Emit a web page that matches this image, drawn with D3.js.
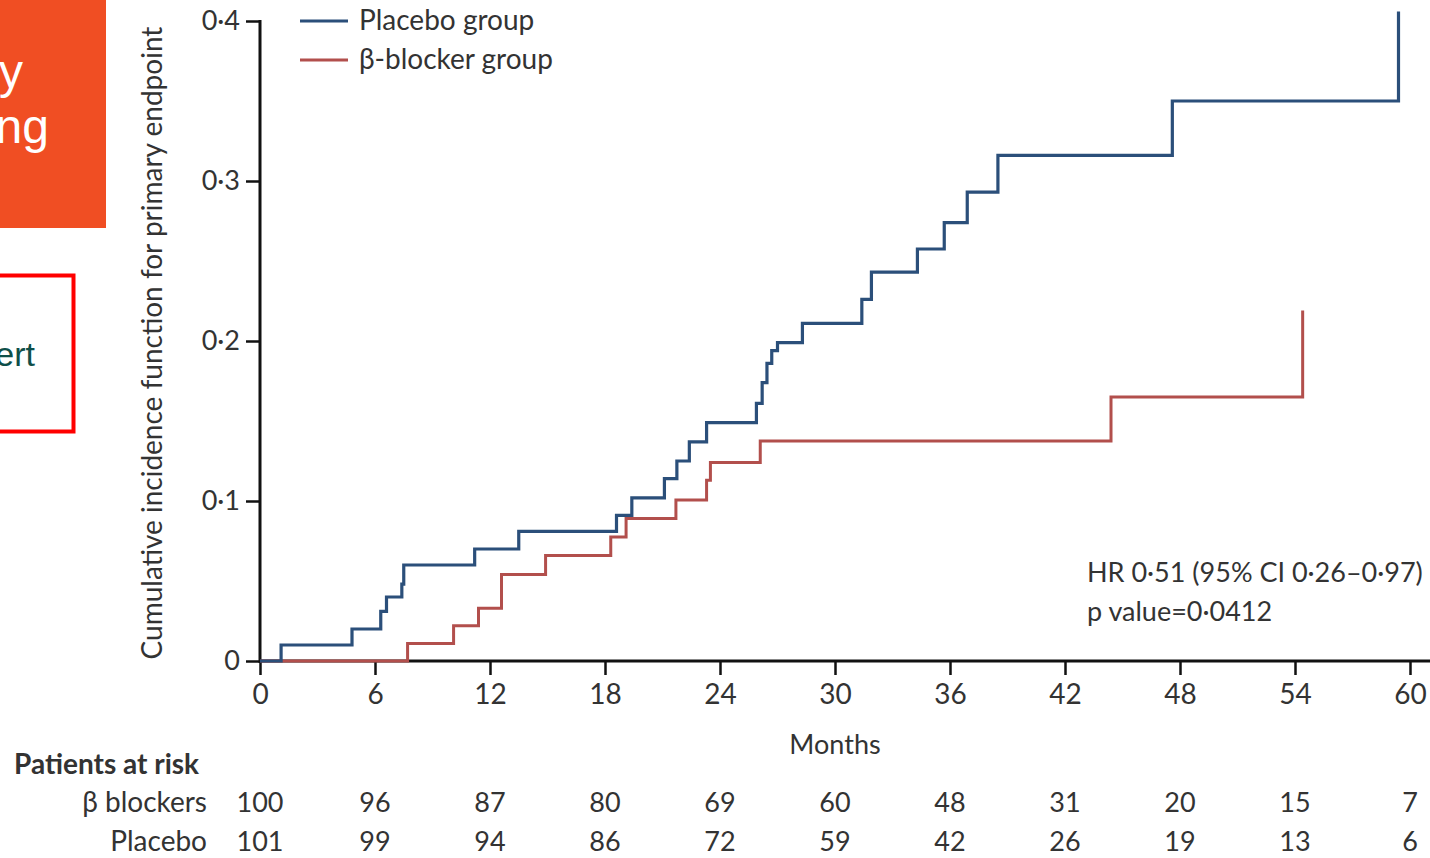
<!DOCTYPE html>
<html>
<head>
<meta charset="utf-8">
<script src="https://cdn.jsdelivr.net/npm/d3@7"></script>
<style>
  html, body { margin: 0; padding: 0; background: #fff; }
  svg { display: block; }
  text { font-family: Lato, "Open Sans", "DejaVu Sans", sans-serif; fill: #333; }
</style>
</head>
<body>
<svg id="chart" width="1430" height="858"></svg>
<script>
// Cumulative incidence of the primary endpoint, step curves (months, cumulative proportion)
const placeboMonths = [0, 1.1, 4.8, 6.3, 6.6, 7.4, 7.5, 11.2, 13.5, 18.6, 19.4, 21.1, 21.75, 22.4, 23.3,
  25.9, 26.2, 26.45, 26.7, 27.0, 28.3, 31.4, 31.9, 34.3, 35.7, 36.9, 38.5, 47.6, 59.4];
const placeboIncidence = [0, 0.010, 0.020, 0.031, 0.040, 0.048, 0.060, 0.070, 0.081, 0.091, 0.102, 0.114, 0.125, 0.137, 0.149,
  0.161, 0.174, 0.186, 0.194, 0.199, 0.211, 0.226, 0.243, 0.2575, 0.274, 0.293, 0.316, 0.350, 0.406];

const blockerMonths = [0, 7.7, 10.1, 11.4, 12.6, 14.9, 18.3, 19.1, 21.7, 23.3, 23.5, 26.1, 44.4, 54.4];
const blockerIncidence = [0, 0.011, 0.022, 0.033, 0.054, 0.066, 0.0775, 0.089, 0.1006, 0.113, 0.124, 0.1375, 0.165, 0.219];

// Axis ticks
const monthTicks = [0, 6, 12, 18, 24, 30, 36, 42, 48, 54, 60];
const incidenceTicks = [0, 0.1, 0.2, 0.3, 0.4];

// Patients at risk at each month tick
const riskGroups = ["β blockers", "Placebo"];
const riskBlockers = [100, 96, 87, 80, 69, 60, 48, 31, 20, 15, 7];
const riskPlacebo = [101, 99, 94, 86, 72, 59, 42, 26, 19, 13, 6];

const legendLabels = ["Placebo group", "β-blocker group"];
const statLines = ["HR 0·51 (95% CI 0·26–0·97)", "p value=0·0412"];

const colPlacebo = "#2b4f7a";
const colBlocker = "#b24f4c";

const svg = d3.select("#chart");
svg.append("rect").attr("width", 1430).attr("height", 858).attr("fill", "#fff");

const x = d3.scaleLinear().domain([0, 60]).range([260, 1410]);
const y = d3.scaleLinear().domain([0, 0.4]).range([661, 21]);

const dot = v => v === 0 ? "0" : d3.format(".1f")(v).replace(".", "·");

// Y axis
const yAxis = svg.append("g").attr("transform", `translate(${x(0)},0)`)
  .call(d3.axisLeft(y).tickValues(incidenceTicks).tickFormat(dot).tickSize(14).tickPadding(6));
yAxis.select(".domain").remove();
yAxis.selectAll(".tick line").attr("stroke", "#111").attr("stroke-width", 2.5);
yAxis.selectAll(".tick text").attr("font-size", 27).attr("fill", "#333")
  .style("font-family", "Lato, 'Open Sans', sans-serif");
svg.append("line").attr("x1", x(0)).attr("x2", x(0)).attr("y1", y(0.4) - 1).attr("y2", y(0) + 2)
  .attr("stroke", "#111").attr("stroke-width", 3);

// X axis
const xAxis = svg.append("g").attr("transform", `translate(0,${y(0)})`)
  .call(d3.axisBottom(x).tickValues(monthTicks).tickFormat(d3.format("d")).tickSize(14).tickPadding(9));
xAxis.select(".domain").remove();
xAxis.selectAll(".tick line").attr("stroke", "#111").attr("stroke-width", 2.5);
xAxis.selectAll(".tick text").attr("font-size", 28).attr("fill", "#333")
  .style("font-family", "Lato, 'Open Sans', sans-serif");
svg.append("line").attr("x1", x(0) - 1).attr("x2", 1430).attr("y1", y(0)).attr("y2", y(0))
  .attr("stroke", "#111").attr("stroke-width", 3);

// Axis titles
svg.append("text").attr("transform", `translate(162,${(y(0) + y(0.4)) / 2 + 2}) rotate(-90)`)
  .attr("text-anchor", "middle").attr("font-size", 28).attr("fill", "#444")
  .text("Cumulative incidence function for primary endpoint");
svg.append("text").attr("x", x(30)).attr("y", 754).attr("text-anchor", "middle")
  .attr("font-size", 27).text("Months");

// Step curves
const step = d3.line().x(d => x(d[0])).y(d => y(d[1])).curve(d3.curveStepAfter);
const blockerPts = blockerMonths.map((m, i) => [m, blockerIncidence[i]]);
const placeboPts = placeboMonths.map((m, i) => [m, placeboIncidence[i]]);
// final vertical at the last follow-up time
blockerPts.push([blockerMonths[blockerMonths.length - 1], blockerIncidence[blockerIncidence.length - 1]]);
placeboPts.push([placeboMonths[placeboMonths.length - 1], placeboIncidence[placeboIncidence.length - 1]]);

svg.append("path").datum(blockerPts).attr("d", step)
  .attr("fill", "none").attr("stroke", colBlocker).attr("stroke-width", 3);
svg.append("path").datum(placeboPts).attr("d", step)
  .attr("fill", "none").attr("stroke", colPlacebo).attr("stroke-width", 3.2);

// Legend
const legend = svg.append("g");
[colPlacebo, colBlocker].forEach((c, i) => {
  const ly = 21 + i * 39;
  legend.append("line").attr("x1", 300).attr("x2", 348).attr("y1", ly).attr("y2", ly)
    .attr("stroke", c).attr("stroke-width", 3);
  legend.append("text").attr("x", 359).attr("y", ly + 9).attr("font-size", 28).attr("fill", "#333")
    .text(legendLabels[i]);
});

// Hazard ratio annotation
statLines.forEach((t, i) => {
  svg.append("text").attr("x", 1087).attr("y", 582 + i * 39).attr("font-size", 27).attr("fill", "#333").text(t);
});

// Patients at risk table
svg.append("text").attr("x", 14).attr("y", 774).attr("font-size", 28).attr("font-weight", 700)
  .attr("fill", "#222").text("Patients at risk");
[riskBlockers, riskPlacebo].forEach((row, r) => {
  const ry = 812 + r * 39;
  svg.append("text").attr("x", 207).attr("y", ry).attr("text-anchor", "end")
    .attr("font-size", 28).text(riskGroups[r]);
  svg.selectAll(null).data(row).enter().append("text")
    .attr("x", (d, i) => x(monthTicks[i])).attr("y", ry).attr("text-anchor", "middle")
    .attr("font-size", 27).text(d => d);
});

// Slide elements at the left edge
svg.append("rect").attr("x", 0).attr("y", 0).attr("width", 106).attr("height", 228).attr("fill", "#f04e23");
svg.append("text").attr("x", 23).attr("y", 88).attr("text-anchor", "end").attr("font-size", 48)
  .style("font-family", "'Liberation Sans', Arial, sans-serif").style("fill", "#fff").text("y");
svg.append("text").attr("x", 49).attr("y", 143).attr("text-anchor", "end").attr("font-size", 48)
  .style("font-family", "'Liberation Sans', Arial, sans-serif").style("fill", "#fff").text("ng");
svg.append("rect").attr("x", -10).attr("y", 275.5).attr("width", 83.5).attr("height", 156)
  .attr("fill", "none").attr("stroke", "#ff0000").attr("stroke-width", 4);
svg.append("text").attr("x", 35).attr("y", 366).attr("text-anchor", "end").attr("font-size", 34)
  .style("font-family", "'Liberation Sans', Arial, sans-serif").style("fill", "#0e4f49").text("ert");
</script>
</body>
</html>
